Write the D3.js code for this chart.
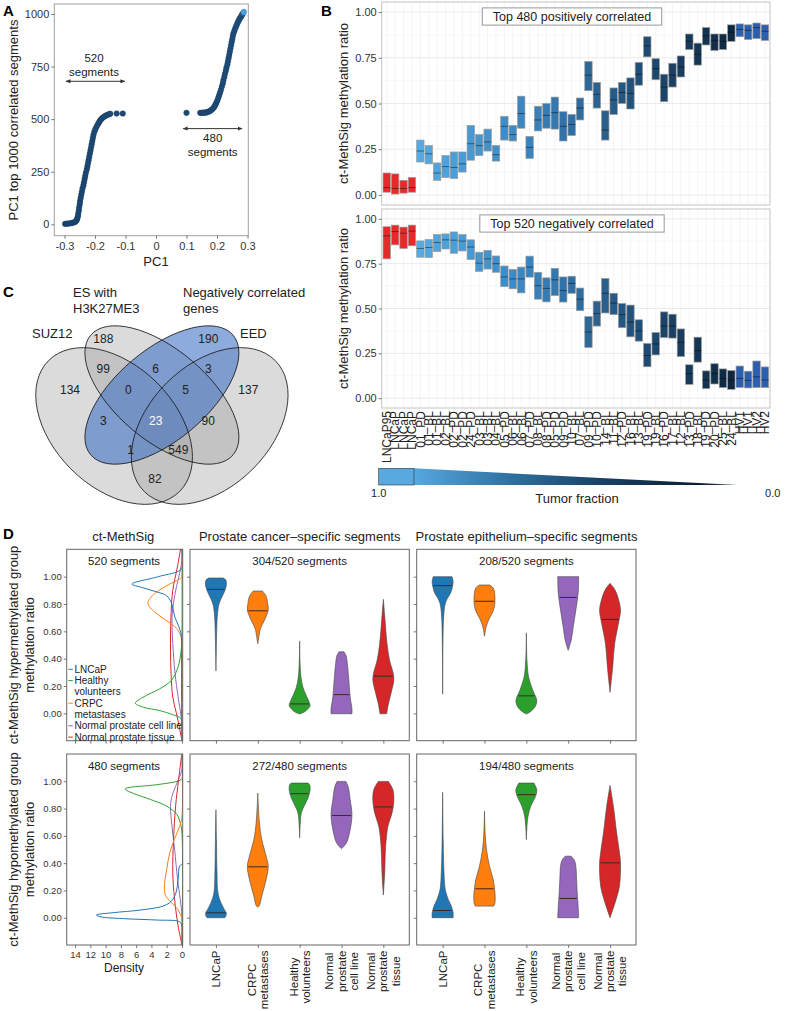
<!DOCTYPE html>
<html>
<head>
<meta charset="utf-8">
<script src="https://cdn.jsdelivr.net/npm/d3@7/dist/d3.min.js"></script>
<style>
html,body{margin:0;padding:0;background:#fff;}
svg text{font-family:"Liberation Sans",Arial,Helvetica,sans-serif;}
</style>
</head>
<body>
<svg id="chart" width="786" height="1011" xmlns="http://www.w3.org/2000/svg"></svg>
<script>
// ======================= DATA =======================
// ---- Panel A: segments ranked by PC1 loading, [rank, PC1]
const pcNegSegments = [[2,-0.298],[3,-0.292],[4,-0.286],[5,-0.281],[6,-0.276],[8,-0.271],[10,-0.267],[14,-0.263],[20,-0.260],[28,-0.258],[38,-0.256],[50,-0.255],[65,-0.253],[80,-0.252],[95,-0.250],[110,-0.249],[125,-0.247],[140,-0.245],[155,-0.243],[170,-0.241],[185,-0.238],[200,-0.236],[215,-0.234],[230,-0.232],[245,-0.230],[260,-0.227],[275,-0.225],[290,-0.223],[305,-0.221],[320,-0.219],[335,-0.217],[350,-0.215],[365,-0.213],[380,-0.211],[395,-0.209],[410,-0.207],[425,-0.205],[440,-0.202],[452,-0.199],[464,-0.195],[474,-0.191],[484,-0.187],[492,-0.184],[499,-0.180],[505,-0.176],[510,-0.172],[514,-0.168],[518,-0.163],[521,-0.158],[524,-0.153],[526,-0.150],[527,-0.129],[527,-0.109]];
const pcPosSegments = [[530,0.100],[530,0.145],[530,0.150],[531,0.155],[531,0.160],[532,0.165],[534,0.169],[536,0.173],[539,0.177],[543,0.181],[548,0.185],[554,0.189],[561,0.192],[569,0.195],[578,0.198],[588,0.201],[600,0.204],[613,0.207],[626,0.210],[640,0.213],[655,0.216],[670,0.219],[685,0.221],[700,0.224],[715,0.226],[730,0.229],[745,0.231],[760,0.234],[775,0.236],[790,0.238],[805,0.240],[820,0.242],[835,0.244],[850,0.246],[865,0.248],[880,0.250],[895,0.252],[908,0.254],[920,0.257],[932,0.260],[943,0.263],[953,0.266],[962,0.269],[971,0.272],[979,0.275],[986,0.278],[993,0.281],[999,0.283],[1005,0.286],[1010,0.288]];
const pcXTicks = [-0.3,-0.2,-0.1,0,0.1,0.2,0.3];
const pcYTicks = [0,250,500,750,1000];

// ---- Panel B: per-sample ct-MethSig methylation ratio (box low / median / high)
const sampleLabels = ["LNCaP95","LNCaP","LNCaP","LNCaP","01_PD","01_BL","01_BL","02_BL","02_PD","02_PD","24_PD","03_BL","03_BL","04_BL","05_PD","06_BL","06_BL","07_PD","08_BL","08_PD","05_PD","09_PD","10_BL","07_BL","09_PD","10_PD","14_BL","11_BL","12_PD","16_BL","13_BL","19_PD","19_BL","16_PD","17_BL","12_BL","13_PD","18_BL","19_PD","20_PD","25_BL","24_BL","HV1","HV1","HV2","HV2"];
const posLow  = [0.015,0.005,0.01,0.015,0.18,0.17,0.08,0.095,0.09,0.125,0.19,0.215,0.24,0.185,0.30,0.295,0.365,0.20,0.35,0.365,0.36,0.295,0.325,0.41,0.57,0.475,0.30,0.44,0.50,0.47,0.60,0.755,0.63,0.51,0.59,0.645,0.795,0.71,0.82,0.79,0.795,0.84,0.865,0.85,0.855,0.845];
const posMed  = [0.04,0.035,0.035,0.04,0.24,0.225,0.12,0.155,0.15,0.17,0.28,0.27,0.29,0.22,0.375,0.33,0.445,0.26,0.41,0.435,0.45,0.375,0.385,0.475,0.655,0.55,0.355,0.52,0.56,0.555,0.66,0.815,0.69,0.59,0.655,0.70,0.84,0.77,0.87,0.845,0.84,0.89,0.905,0.90,0.915,0.895];
const posHigh = [0.12,0.115,0.08,0.095,0.30,0.27,0.175,0.215,0.235,0.235,0.38,0.33,0.36,0.27,0.43,0.38,0.54,0.32,0.485,0.50,0.535,0.455,0.44,0.53,0.73,0.615,0.46,0.585,0.615,0.64,0.725,0.865,0.745,0.66,0.72,0.76,0.88,0.83,0.915,0.88,0.88,0.93,0.935,0.93,0.94,0.93];
const negLow  = [0.777,0.855,0.835,0.85,0.786,0.784,0.817,0.832,0.808,0.821,0.773,0.707,0.72,0.702,0.622,0.61,0.587,0.675,0.552,0.537,0.572,0.536,0.585,0.488,0.283,0.402,0.475,0.466,0.393,0.342,0.318,0.175,0.241,0.338,0.335,0.232,0.077,0.201,0.053,0.079,0.059,0.049,0.06,0.057,0.059,0.059];
const negMed  = [0.905,0.929,0.92,0.932,0.835,0.84,0.868,0.883,0.881,0.876,0.843,0.753,0.777,0.75,0.676,0.665,0.665,0.731,0.627,0.612,0.66,0.6,0.64,0.552,0.369,0.472,0.585,0.53,0.466,0.424,0.375,0.238,0.302,0.402,0.402,0.311,0.137,0.265,0.101,0.137,0.11,0.101,0.11,0.099,0.119,0.101];
const negHigh = [0.956,0.965,0.954,0.965,0.877,0.885,0.912,0.916,0.927,0.912,0.883,0.814,0.824,0.793,0.737,0.718,0.731,0.792,0.702,0.671,0.724,0.676,0.68,0.614,0.455,0.541,0.667,0.585,0.528,0.519,0.437,0.305,0.366,0.481,0.468,0.386,0.186,0.34,0.152,0.192,0.163,0.154,0.179,0.15,0.207,0.174];
const bYTicks = [0,0.25,0.5,0.75,1];
const bTitles = ["Top 480 positively correlated","Top 520 negatively correlated"];

// ---- Panel C: Venn
const vennSetNames = [["SUZ12"],["ES with","H3K27ME3"],["Negatively correlated","genes"],["EED"]];
const vennRegions = ["SUZ12","ES","Neg","EED","SUZ12&ES","ES&Neg","Neg&EED","SUZ12&Neg","ES&EED","SUZ12&EED","SUZ12&ES&Neg","ES&Neg&EED","all","SUZ12&Neg&EED","SUZ12&ES&EED"];
const vennCounts  = [134,188,190,137,99,6,3,3,90,82,0,5,23,1,549];

// ---- Panel D
const groupNames  = ["LNCaP","CRPC metastases","Healthy volunteers","Normal prostate cell line","Normal prostate tissue"];
const groupColors = ["#1f77b4","#ff7f0e","#2ca02c","#9467bd","#d62728"];
const violinAxisLabels = [["LNCaP"],["CRPC","metastases"],["Healthy","volunteers"],["Normal","prostate","cell line"],["Normal","prostate","tissue"]];
const legendItems = [[0,["LNCaP"]],[2,["Healthy","volunteers"]],[1,["CRPC","metastases"]],[3,["Normal prostate cell line"]],[4,["Normal prostate tissue"]]];
const segmentTotals = [520,480];
const cancerSpecific = [304,272];
const epitheliumSpecific = [208,194];
const dYTicks = [0,0.2,0.4,0.6,0.8,1.0];
const densityTicks = [0,2,4,6,8,10,12,14];
// density curves [methylation ratio, density], order of groupNames
const densityHyper = [
  [[1.2,0],[1.06,0],[1.0,3.1],[0.946,6.56],[0.92,5.2],[0.89,3.4],[0.86,2.0],[0.81,1.4],[0.70,0.9],[0.64,0.44],[0.57,0.1],[0.4,0.05],[0.1,0.05],[-0.2,0]],
  [[1.2,0],[1.0,0],[0.98,0.4],[0.94,1.8],[0.88,3.5],[0.84,4.2],[0.81,4.46],[0.775,4.2],[0.72,3.1],[0.67,1.8],[0.62,0.7],[0.56,0.1],[0.5,0],[-0.2,0]],
  [[1.2,0],[0.58,0],[0.46,0.1],[0.34,0.5],[0.24,1.4],[0.18,2.9],[0.118,5.1],[0.074,6.1],[0.044,5.0],[0.02,2.9],[-0.01,1.2],[-0.041,0.1],[-0.2,0]],
  [[1.2,0],[1.12,0],[1.025,0.3],[0.93,0.7],[0.81,1.1],[0.70,1.3],[0.51,1.2],[0.29,0.9],[0.12,0.5],[-0.03,0.1],[-0.1,0],[-0.2,0]],
  [[1.21,0.15],[1.07,0.6],[0.9,1.2],[0.755,1.4],[0.51,1.5],[0.26,1.4],[0.12,1.2],[-0.03,0.6],[-0.2,0]]
];
const densityHypo = [
  [[1.2,0],[0.39,0],[0.38,0.3],[0.28,0.5],[0.18,0.8],[0.12,1.4],[0.085,2.5],[0.056,5.5],[0.037,9.0],[0.02,11.2],[0.007,10.7],[-0.008,7.2],[-0.017,3.3],[-0.03,0.3],[-0.06,0],[-0.2,0]],
  [[1.2,0],[0.74,0],[0.67,0.3],[0.573,1.0],[0.475,1.6],[0.354,2.0],[0.232,2.3],[0.171,2.2],[0.122,1.6],[0.073,0.7],[0.012,0.1],[-0.01,0],[-0.2,0]],
  [[1.2,0],[1.02,0],[1.0,0.65],[0.975,3.3],[0.944,7.44],[0.91,6.3],[0.866,4.1],[0.817,1.97],[0.756,0.66],[0.695,0.22],[0.62,0],[-0.2,0]],
  [[1.2,0],[1.085,0],[0.987,0.66],[0.89,1.3],[0.817,1.5],[0.671,1.3],[0.5,0.96],[0.28,0.57],[0.134,0.22],[0.012,0],[-0.2,0]],
  [[1.21,0],[1.01,0.44],[0.817,0.83],[0.573,1.1],[0.329,1.2],[0.134,0.96],[-0.061,0.5],[-0.195,0]]
];
// violin profiles [methylation ratio, relative width], order of groupNames
const violinHyperCancer = [
  [[0.99,0.7],[0.975,0.95],[0.95,1.0],[0.92,0.95],[0.88,0.75],[0.84,0.5],[0.80,0.29],[0.75,0.18],[0.70,0.12],[0.60,0.07],[0.45,0.03],[0.31,0]],
  [[0.895,0.44],[0.87,0.7],[0.85,0.83],[0.80,0.95],[0.755,1.0],[0.72,0.85],[0.68,0.63],[0.62,0.25],[0.57,0.13],[0.51,0]],
  [[0.53,0],[0.39,0.03],[0.265,0.13],[0.19,0.32],[0.13,0.63],[0.08,0.92],[0.057,1.0],[0.033,0.8],[0.01,0.45],[-0.005,0]],
  [[0.45,0.24],[0.42,0.45],[0.39,0.52],[0.265,0.68],[0.12,0.83],[0.033,1.0],[-0.003,1.0]],
  [[0.834,0],[0.683,0.16],[0.511,0.35],[0.387,0.6],[0.29,0.95],[0.24,1.0],[0.155,0.76],[0.069,0.48],[-0.003,0.32]]
];
const violinHyperEpi = [
  [[1.0,0.9],[0.965,1.0],[0.93,0.95],[0.88,0.76],[0.84,0.45],[0.80,0.24],[0.71,0.1],[0.51,0.03],[0.14,0]],
  [[0.939,0.5],[0.92,0.8],[0.90,0.92],[0.816,1.0],[0.755,0.86],[0.70,0.5],[0.68,0.38],[0.633,0.16],[0.564,0]],
  [[0.589,0],[0.387,0.06],[0.265,0.22],[0.167,0.63],[0.093,1.0],[0.044,0.8],[0.01,0.35],[-0.005,0]],
  [[1.0,1.0],[0.878,0.95],[0.755,0.73],[0.633,0.48],[0.535,0.29],[0.461,0]],
  [[0.951,0],[0.902,0.48],[0.828,0.83],[0.755,1.0],[0.657,0.8],[0.51,0.44],[0.338,0.25],[0.154,0]]
];
const violinHypoCancer = [
  [[0.792,0],[0.573,0.05],[0.329,0.1],[0.183,0.19],[0.109,0.48],[0.061,0.8],[0.032,1.0],[0.007,0.92],[0.0,0.85]],
  [[0.914,0],[0.695,0.16],[0.573,0.38],[0.451,0.8],[0.378,1.0],[0.28,0.8],[0.159,0.38],[0.085,0.13],[0.078,0]],
  [[0.987,0.8],[0.975,0.95],[0.938,1.0],[0.878,0.8],[0.817,0.42],[0.768,0.16],[0.695,0.06],[0.585,0]],
  [[0.999,0.42],[0.963,0.63],[0.865,0.83],[0.756,1.0],[0.646,0.83],[0.549,0.48],[0.505,0]],
  [[0.999,0.48],[0.938,0.92],[0.853,1.0],[0.768,0.83],[0.67,0.44],[0.524,0.22],[0.329,0.13],[0.166,0]]
];
const violinHypoEpi = [
  [[0.919,0],[0.573,0.05],[0.329,0.13],[0.207,0.25],[0.134,0.54],[0.085,0.83],[0.036,1.0],[0.0,1.0]],
  [[0.78,0],[0.622,0.06],[0.5,0.19],[0.378,0.48],[0.28,0.83],[0.183,1.0],[0.109,1.0],[0.085,0.88]],
  [[0.987,0.72],[0.938,1.0],[0.89,0.88],[0.817,0.42],[0.744,0.16],[0.671,0.06],[0.573,0]],
  [[0.451,0.29],[0.42,0.6],[0.378,0.73],[0.28,0.8],[0.183,0.86],[0.085,0.95],[0.0,1.0]],
  [[0.97,0],[0.817,0.32],[0.622,0.63],[0.476,0.9],[0.402,1.0],[0.232,0.9],[0.134,0.58],[0.0,0]]
];
const medianHyperCancer = [0.907,0.75,0.069,0.137,0.272];
const medianHyperEpi    = [0.934,0.82,0.128,0.848,0.687];
const medianHypoCancer  = [0.036,0.373,0.909,0.749,0.812];
const medianHypoEpi     = [0.053,0.212,0.902,0.141,0.402];

// ======================= DRAWING =======================
const svg = d3.select('#chart');
const FONT = '"Liberation Sans", Arial, Helvetica, sans-serif';
const defs = svg.append('defs');

function fixAxis(g, fs){
  g.attr('font-family', FONT).attr('font-size', fs);
  g.select('.domain').remove();
  g.selectAll('.tick line').attr('stroke','#555').attr('stroke-width',0.8);
  g.selectAll('.tick text').attr('fill','#333');
}
function label(parent, x, y, t, o={}){
  const el = parent.append('text').attr('x',x).attr('y',y).text(t)
    .attr('font-size', o.size||12).attr('fill', o.fill||'#222')
    .attr('text-anchor', o.anchor||'start');
  if (o.weight) el.attr('font-weight', o.weight);
  if (o.dy) el.attr('dy', o.dy);
  if (o.rotate!=null) el.attr('transform', `rotate(${o.rotate},${x},${y})`);
  return el;
}

// panel letters
[['A',3,16],['B',321,16],['C',3,297],['D',3,539]].forEach(([t,x,y])=>label(svg,x,y,t,{size:15,weight:'bold',fill:'#000'}));

// ---------------- Panel A ----------------
(function(){
  const L=54.3,R=248.3,T=4,B=235.7;
  const x=d3.scaleLinear().domain([-0.3,0.3]).range([64.5,247.5]);
  const y=d3.scaleLinear().domain([0,1000]).range([224.3,14]);
  const g=svg.append('g');
  g.append('rect').attr('x',L).attr('y',T).attr('width',R-L).attr('height',B-T).attr('fill','none').attr('stroke','#a0a0a0').attr('stroke-width',1);
  const gy=g.append('g').attr('transform',`translate(${L},0)`).call(d3.axisLeft(y).tickValues(pcYTicks).tickSize(3).tickPadding(2).tickFormat(d3.format('d')));
  fixAxis(gy,11);
  const gx=g.append('g').attr('transform',`translate(0,${B})`).call(d3.axisBottom(x).tickValues(pcXTicks).tickSize(3).tickPadding(4).tickFormat(d=>d===0?'0':d3.format('.1f')(d).replace('\u2212','-')));
  fixAxis(gx,11);
  const pts=pcNegSegments.concat(pcPosSegments);
  const col=d3.scaleLinear().domain([0,1000,1010]).range(['#1b456d','#1f4f7c','#4f9fdc']).clamp(true);
  g.append('g').selectAll('circle').data(pts).join('circle')
    .attr('cx',d=>x(d[1])).attr('cy',d=>y(d[0])).attr('r',2.8)
    .attr('fill',d=>col(d[0])).attr('stroke',d=>d[0]>=1008?'#3f8ccc':'#173d62').attr('stroke-width',0.4);
  // arrows
  defs.append('marker').attr('id','arr').attr('viewBox','0 0 10 10').attr('refX',9).attr('refY',5)
    .attr('markerWidth',5).attr('markerHeight',5).attr('orient','auto-start-reverse')
    .append('path').attr('d','M0,1L10,5L0,9z').attr('fill','#333');
  g.append('line').attr('x1',x(-0.295)).attr('x2',x(-0.102)).attr('y1',y(680)).attr('y2',y(680))
    .attr('stroke','#333').attr('stroke-width',1).attr('marker-start','url(#arr)').attr('marker-end','url(#arr)');
  g.append('line').attr('x1',x(0.089)).attr('x2',x(0.282)).attr('y1',y(455)).attr('y2',y(455))
    .attr('stroke','#333').attr('stroke-width',1).attr('marker-start','url(#arr)').attr('marker-end','url(#arr)');
  label(g,94,62,'520',{size:11.5,anchor:'middle'});
  label(g,94,76,'segments',{size:11.5,anchor:'middle'});
  label(g,212.7,141.5,'480',{size:11.5,anchor:'middle'});
  label(g,212.7,155.5,'segments',{size:11.5,anchor:'middle'});
  label(g,156,266,'PC1',{size:13,anchor:'middle'});
  label(g,13.5,120,'PC1 top 1000 correlated segments',{size:13,anchor:'middle',rotate:-90,dy:'0.35em'});
})();

// ---------------- Panel B ----------------
(function(){
  const L=381.7,R=770;
  const x=d3.scalePoint().domain(d3.range(sampleLabels.length)).range([L,R]).padding(0.6);
  const bw=x.step()*0.88;
  const patientColor=d3.scaleLinear().domain([4,17,29,41]).range(['#54aae2','#3984bf','#22527c','#0e2840']);
  const colorOf=i=> sampleLabels[i].startsWith('LNCaP')?'#e8292b': sampleLabels[i].startsWith('HV')?'#2b5fb0': patientColor(i);
  const panels=[
    {y0:2,y1:205,low:posLow,med:posMed,high:posHigh,title:bTitles[0]},
    {y0:209,y1:408,low:negLow,med:negMed,high:negHigh,title:bTitles[1]}
  ];
  panels.forEach(p=>{
    const y=d3.scaleLinear().domain([-0.055,1.055]).range([p.y1,p.y0]);
    const g=svg.append('g');
    g.append('rect').attr('x',L).attr('y',p.y0).attr('width',R-L).attr('height',p.y1-p.y0).attr('fill','#fff');
    g.append('g').selectAll('line').data([0.125,0.375,0.625,0.875]).join('line')
      .attr('x1',L).attr('x2',R).attr('y1',d=>y(d)).attr('y2',d=>y(d)).attr('stroke','#f3f3f3').attr('stroke-width',0.6);
    g.append('g').selectAll('line').data(bYTicks).join('line')
      .attr('x1',L).attr('x2',R).attr('y1',d=>y(d)).attr('y2',d=>y(d)).attr('stroke','#e4e4e4').attr('stroke-width',0.8);
    g.append('g').selectAll('line').data(x.domain()).join('line')
      .attr('x1',d=>x(d)).attr('x2',d=>x(d)).attr('y1',p.y0).attr('y2',p.y1).attr('stroke','#ececec').attr('stroke-width',0.6);
    g.append('rect').attr('x',L).attr('y',p.y0).attr('width',R-L).attr('height',p.y1-p.y0).attr('fill','none').attr('stroke','#c4c4c4').attr('stroke-width',1);
    const bx=g.append('g').selectAll('g').data(x.domain()).join('g');
    bx.append('rect').attr('x',i=>x(i)-bw/2).attr('width',bw)
      .attr('y',i=>y(p.high[i])).attr('height',i=>y(p.low[i])-y(p.high[i]))
      .attr('fill',i=>colorOf(i)).attr('stroke','#9a9a9a').attr('stroke-width',0.7);
    bx.append('line').attr('x1',i=>x(i)-bw/2).attr('x2',i=>x(i)+bw/2)
      .attr('y1',i=>y(p.med[i])).attr('y2',i=>y(p.med[i])).attr('stroke','rgba(0,0,0,0.55)').attr('stroke-width',0.8);
    const ga=g.append('g').attr('transform',`translate(${L},0)`).call(d3.axisLeft(y).tickValues(bYTicks).tickSize(3).tickPadding(2).tickFormat(d3.format('.2f')));
    fixAxis(ga,11);
    // title box
    const ty=p.y0+14.5;
    const tb=g.append('rect');
    const t=label(g,572,ty,p.title,{size:12.5,anchor:'middle',dy:'0.35em'});
    const tw=t.node().getComputedTextLength();
    tb.attr('x',572-tw/2-10.5).attr('y',ty-8.6).attr('width',tw+21).attr('height',17.2)
      .attr('fill','#fff').attr('stroke','#8c8c8c').attr('stroke-width',0.9);
    label(svg,343.5,(p.y0+p.y1)/2,'ct-MethSig methylation ratio',{size:13,anchor:'middle',rotate:-90,dy:'0.35em'});
  });
  // x labels
  svg.append('g').selectAll('text').data(x.domain()).join('text')
    .attr('transform',i=>`translate(${x(i)},411) rotate(-90)`)
    .attr('text-anchor','end').attr('dy','0.36em').attr('font-size',12).attr('fill','#222')
    .text(i=>sampleLabels[i]);
  // tumor fraction colour bar
  const grad=defs.append('linearGradient').attr('id','tfgrad').attr('x1','0').attr('x2','1').attr('y1','0').attr('y2','0');
  [[0,'#56a8df'],[0.3,'#2f709f'],[0.6,'#173e61'],[0.88,'#0b1f34'],[1,'#3d4a58']].forEach(([o,c])=>grad.append('stop').attr('offset',o).attr('stop-color',c));
  const cb=svg.append('g');
  const tf=d3.scaleLinear().domain([1,0]).range([378.7,772.7]);
  cb.append('polygon').attr('points',`${414},468.3 ${738},485 ${414},485`).attr('fill','url(#tfgrad)');
  cb.append('rect').attr('x',tf(1)).attr('y',468.3).attr('width',414-tf(1)).attr('height',16.7).attr('fill','#58a9df').attr('stroke','#333').attr('stroke-width',0.6);
  label(cb,tf(1),497,'1.0',{size:11,anchor:'middle'});
  label(cb,tf(0),497,'0.0',{size:11,anchor:'middle'});
  label(cb,577,503,'Tumor fraction',{size:13,anchor:'middle'});
})();

// ---------------- Panel C (Venn) ----------------
(function(){
  const g=svg.append('g');
  const ells=[
    {cx:114.1,cy:426,rx:92.6,ry:60.9,rot:45,fill:'#999999',op:0.35},
    {cx:209.7,cy:426,rx:92.6,ry:60.9,rot:-45,fill:'#999999',op:0.35},
    {cx:161.9,cy:395,rx:93,ry:45.5,rot:40,fill:'#999999',op:0.35},
    {cx:161.9,cy:395,rx:93,ry:45.5,rot:-40,fill:'#3b6fc4',op:0.58}
  ];
  ells.forEach(e=>g.append('ellipse').attr('transform',`translate(${e.cx},${e.cy}) rotate(${e.rot})`)
    .attr('rx',e.rx).attr('ry',e.ry).attr('fill',e.fill).attr('fill-opacity',e.op));
  ells.forEach(e=>g.append('ellipse').attr('transform',`translate(${e.cx},${e.cy}) rotate(${e.rot})`)
    .attr('rx',e.rx).attr('ry',e.ry).attr('fill','none').attr('stroke','#1a1a1a').attr('stroke-width',0.8));
  const pos={"SUZ12":[70,390],"ES":[103.3,339],"Neg":[208.3,339],"EED":[248.3,390],"SUZ12&ES":[103.3,368.3],"ES&Neg":[155.7,368.3],
    "Neg&EED":[208.3,368.3],"SUZ12&Neg":[103.3,421],"ES&EED":[208.3,421],"SUZ12&EED":[155,479],"SUZ12&ES&Neg":[128.3,390],
    "ES&Neg&EED":[185.7,390],"all":[155.7,421],"SUZ12&Neg&EED":[130.7,450],"SUZ12&ES&EED":[178.3,450]};
  vennRegions.forEach((r,i)=>label(g,pos[r][0],pos[r][1],String(vennCounts[i]),{size:12,anchor:'middle',dy:'0.35em',fill:r==='all'?'#fff':'#222'}));
  const setPos=[[32,338],[73,297],[183,297],[240,338]];
  vennSetNames.forEach((lines,i)=>lines.forEach((l,j)=>label(g,setPos[i][0],setPos[i][1]+j*16,l,{size:13})));
})();

// ---------------- Panel D ----------------
(function(){
  const dx=d3.scaleLinear().domain([-0.1,15.1]).range([182.7,66.7]);
  const DL=66.7,DR=182.7;
  const vPanels=[[190,409.3],[416.7,636]];
  const rows=[
    {T:549.3,B:740.7,dens:densityHyper,vio:[violinHyperCancer,violinHyperEpi],med:[medianHyperCancer,medianHyperEpi],
     title:['ct-MethSig hypermethylated group','methylation ratio'],k:0,showX:false},
    {T:754,B:945,dens:densityHypo,vio:[violinHypoCancer,violinHypoEpi],med:[medianHypoCancer,medianHypoEpi],
     title:['ct-MethSig hypomethylated group','methylation ratio'],k:1,showX:true}
  ];
  function relAt(prof,v){
    for(let i=0;i<prof.length-1;i++){const a=prof[i],b=prof[i+1];
      if(v<=a[0]&&v>=b[0]){const t=(a[0]-v)/(a[0]-b[0]);return a[1]+t*(b[1]-a[1]);}}
    return prof[prof.length-1][1];
  }
  // column titles
  label(svg,123.3,541,'ct-MethSig',{size:13,anchor:'middle'});
  label(svg,299.7,541,'Prostate cancer\u2013specific segments',{size:13,anchor:'middle'});
  label(svg,526.5,541,'Prostate epithelium\u2013specific segments',{size:13,anchor:'middle'});

  rows.forEach((row,ri)=>{
    const y=d3.scaleLinear().domain([-0.2,1.2]).range([row.B,row.T]);
    const g=svg.append('g');
    // density panel
    const cid='clipd'+ri;
    defs.append('clipPath').attr('id',cid).append('rect').attr('x',DL).attr('y',row.T).attr('width',DR-DL).attr('height',row.B-row.T);
    const line=d3.line().x(d=>dx(d[1])).y(d=>y(d[0])).curve(d3.curveCatmullRom.alpha(0.5));
    const order=[3,4,2,1,0];
    g.append('g').attr('clip-path',`url(#${cid})`).selectAll('path').data(order).join('path')
      .attr('d',i=>line(row.dens[i])).attr('fill','none').attr('stroke',i=>groupColors[i]).attr('stroke-width',1);
    g.append('rect').attr('x',DL).attr('y',row.T).attr('width',DR-DL).attr('height',row.B-row.T).attr('fill','none').attr('stroke','#666').attr('stroke-width',1);
    const gya=g.append('g').attr('transform',`translate(${DL},0)`).call(d3.axisLeft(y).tickValues(dYTicks).tickSize(3).tickPadding(2).tickFormat(d3.format('.2f')));
    fixAxis(gya,9.5);
    const gxa=g.append('g').attr('transform',`translate(0,${row.B})`).call(d3.axisBottom(dx).tickValues(densityTicks).tickSize(3).tickPadding(3).tickFormat(row.showX?d3.format('d'):''));
    fixAxis(gxa,9.5);
    label(g,124,row.T+12,segmentTotals[row.k]+' segments',{size:11.5,anchor:'middle',dy:'0.35em'});
    // violin panels
    vPanels.forEach((vp,pi)=>{
      const vx=d3.scalePoint().domain(d3.range(groupNames.length)).range(vp).padding(0.62);
      const hw=vx.step()*0.25;
      const pg=g.append('g');
      pg.append('rect').attr('x',vp[0]).attr('y',row.T).attr('width',vp[1]-vp[0]).attr('height',row.B-row.T).attr('fill','none').attr('stroke','#666').attr('stroke-width',1);
      const a1=pg.append('g').attr('transform',`translate(${vp[0]},0)`).call(d3.axisLeft(y).tickValues(dYTicks).tickSize(3).tickFormat(''));
      fixAxis(a1,9);
      const a2=pg.append('g').attr('transform',`translate(0,${row.B})`).call(d3.axisBottom(vx).tickSize(3).tickFormat(''));
      fixAxis(a2,9);
      const profs=row.vio[pi], meds=row.med[pi];
      profs.forEach((prof,i)=>{
        const cx=vx(i);
        const area=d3.area().curve(d3.curveCatmullRom.alpha(0.5)).y(d=>y(d[0])).x0(d=>cx-d[1]*hw).x1(d=>cx+d[1]*hw);
        pg.append('path').attr('d',area(prof)).attr('fill',groupColors[i]).attr('stroke','#444').attr('stroke-width',0.6);
        const r=relAt(prof,meds[i])*hw*0.92;
        pg.append('line').attr('x1',cx-r).attr('x2',cx+r).attr('y1',y(meds[i])).attr('y2',y(meds[i])).attr('stroke','#3a2a2a').attr('stroke-width',1);
      });
      const cnt=(pi===0?cancerSpecific:epitheliumSpecific)[row.k];
      label(pg,(vp[0]+vp[1])/2,row.T+12,cnt+'/'+segmentTotals[row.k]+' segments',{size:11.5,anchor:'middle',dy:'0.35em'});
      if(row.showX){
        violinAxisLabels.forEach((lines,i)=>{
          const lg=pg.append('g').attr('transform',`translate(${vx(i)},950.5) rotate(-90)`);
          const ts=lines.map((l,j)=>lg.append('text').text(l).attr('font-size',11.5).attr('fill','#222')
            .attr('text-anchor','middle').attr('y',(j-(lines.length-1)/2)*12.3).attr('dy','0.35em'));
          const maxLen=d3.max(ts,t=>t.node().getComputedTextLength());
          ts.forEach(t=>t.attr('x',-maxLen/2));
        });
      }
    });
    // y titles
    const cy=(row.T+row.B)/2;
    label(svg,13,cy,row.title[0],{size:13,anchor:'middle',rotate:-90,dy:'0.35em'});
    label(svg,29,cy,row.title[1],{size:13,anchor:'middle',rotate:-90,dy:'0.35em'});
    if(row.showX) label(svg,124,972,'Density',{size:12,anchor:'middle'});
    if(ri===0){
      // legend
      let ly=669.3;
      legendItems.forEach(([gi,lines])=>{
        svg.append('line').attr('x1',68.3).attr('x2',72.8).attr('y1',ly).attr('y2',ly).attr('stroke',groupColors[gi]).attr('stroke-width',1);
        lines.forEach((l,j)=>{ label(svg,74.5,ly+j*11.3,l,{size:10,dy:'0.35em'}); });
        ly+=lines.length*11.3;
      });
    }
  });
})();
</script>
</body>
</html>
